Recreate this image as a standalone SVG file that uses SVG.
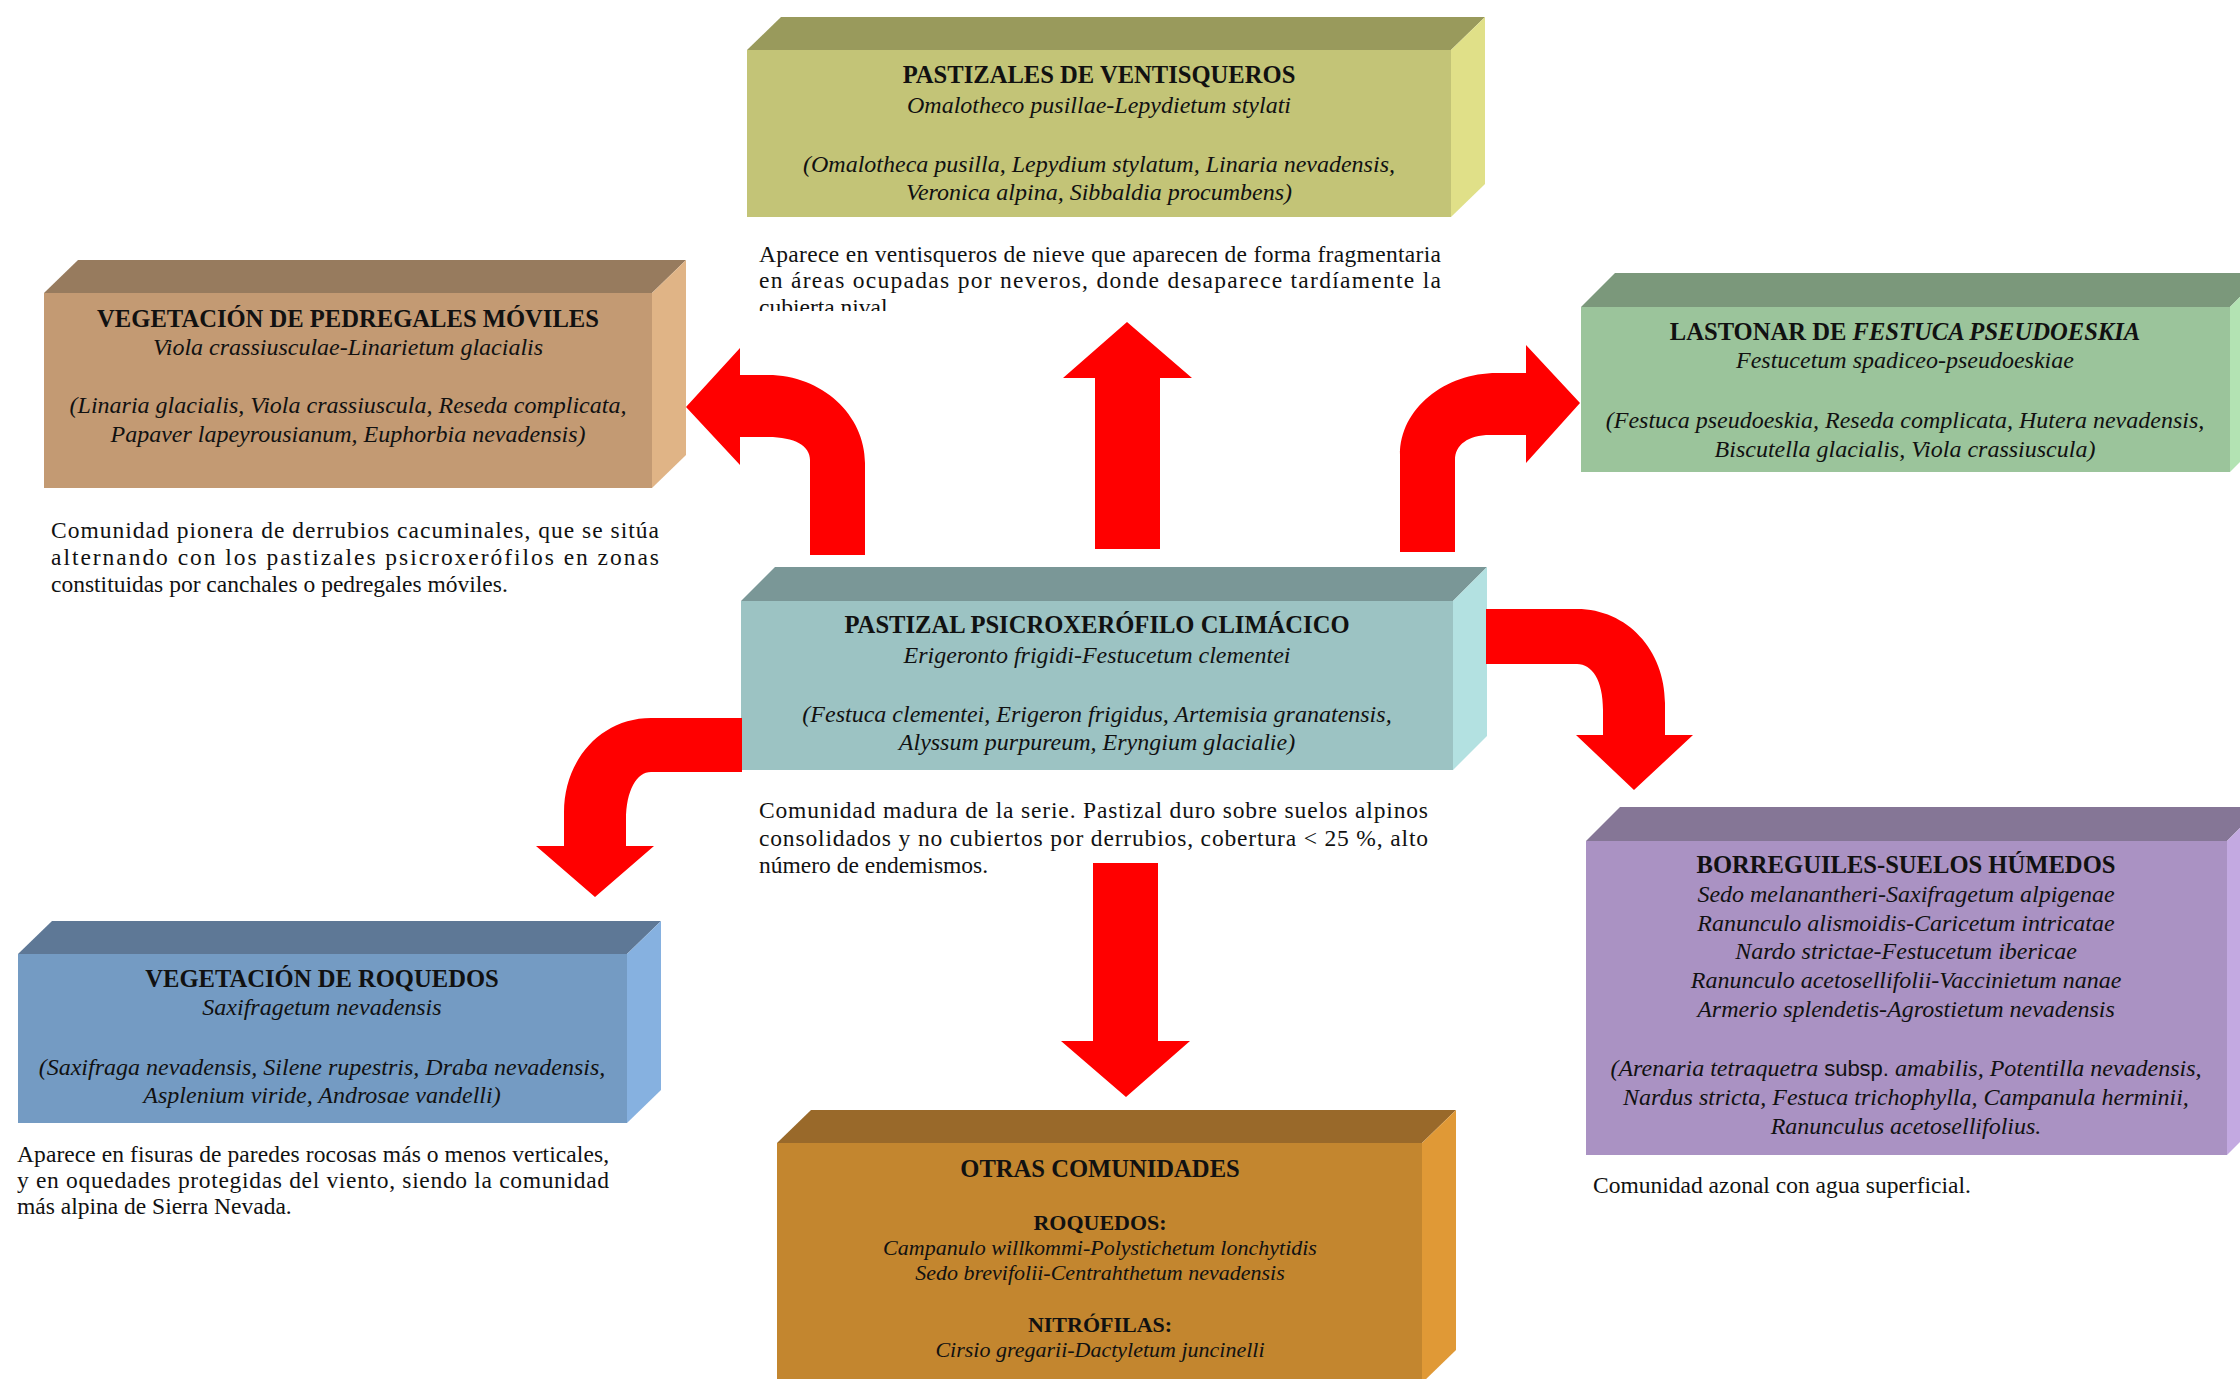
<svg xmlns="http://www.w3.org/2000/svg" width="2240" height="1379" viewBox="0 0 2240 1379">
<style>
text{font-family:"Liberation Serif","Times New Roman",serif;fill:#111;}
.ti{font-size:24.6px;font-weight:bold;text-anchor:middle;}
.it{font-size:24px;font-style:italic;text-anchor:middle;}
.sm{font-size:22px;font-style:italic;text-anchor:middle;}
.sb{font-size:22px;font-weight:bold;text-anchor:middle;}
.p{font-size:23.5px;}
.ss{font-family:"Liberation Sans",Arial,sans-serif;font-style:normal;font-size:22px;}
.arrow{fill:#FF0000;}
#ventisqueros .f{fill:#C3C477}#ventisqueros .t{fill:#999A5C}#ventisqueros .r{fill:#E0E088}
#pedregales .f{fill:#C39A73}#pedregales .t{fill:#977B5E}#pedregales .r{fill:#E0B486}
#lastonar .f{fill:#9BC49B}#lastonar .t{fill:#7B987B}#lastonar .r{fill:#B3E3B3}
#climacico .f{fill:#9CC3C3}#climacico .t{fill:#7A9797}#climacico .r{fill:#B3E1E1}
#borreguiles .f{fill:#AA92C3}#borreguiles .t{fill:#857696}#borreguiles .r{fill:#C3A9E1}
#roquedos .f{fill:#749BC3}#roquedos .t{fill:#5E7896}#roquedos .r{fill:#86B1E0}
#otras .f{fill:#C3862F}#otras .t{fill:#99692A}#otras .r{fill:#E09936}
</style>
<defs>
<clipPath id="clipTop"><rect x="700" y="230" width="800" height="81"/></clipPath>
</defs>
<rect width="2240" height="1379" fill="#FFFFFF"/>

<g id="ventisqueros">
<rect class="f" x="747" y="50" width="704" height="167"/>
<polygon class="t" points="747,50 781,17 1485,17 1451,50"/>
<polygon class="r" points="1451,50 1485,17 1485,184 1451,217"/>
<text class="ti" x="1099" y="83">PASTIZALES DE VENTISQUEROS</text>
<text class="it" x="1099" y="113">Omalotheco pusillae-Lepydietum stylati</text>
<text class="it" x="1099" y="172">(Omalotheca pusilla, Lepydium stylatum, Linaria nevadensis,</text>
<text class="it" x="1099" y="200">Veronica alpina, Sibbaldia procumbens)</text>
<g clip-path="url(#clipTop)">
<text class="p" x="759" y="262" textLength="682" lengthAdjust="spacing">Aparece en ventisqueros de nieve que aparecen de forma fragmentaria</text>
<text class="p" x="759" y="288" textLength="682" lengthAdjust="spacing">en áreas ocupadas por neveros, donde desaparece tardíamente la</text>
<text class="p" x="759" y="315">cubierta nival</text>
</g>
</g>

<g id="pedregales">
<rect class="f" x="44" y="293" width="608" height="195"/>
<polygon class="t" points="44,293 78,260 686,260 652,293"/>
<polygon class="r" points="652,293 686,260 686,455 652,488"/>
<text class="ti" x="348" y="327">VEGETACIÓN DE PEDREGALES MÓVILES</text>
<text class="it" x="348" y="355">Viola crassiusculae-Linarietum glacialis</text>
<text class="it" x="348" y="413">(Linaria glacialis, Viola crassiuscula, Reseda complicata,</text>
<text class="it" x="348" y="442">Papaver lapeyrousianum, Euphorbia nevadensis)</text>
<text class="p" x="51" y="538" textLength="608" lengthAdjust="spacing">Comunidad pionera de derrubios cacuminales, que se sitúa</text>
<text class="p" x="51" y="565" textLength="608" lengthAdjust="spacing">alternando con los pastizales psicroxerófilos en zonas</text>
<text class="p" x="51" y="592">constituidas por canchales o pedregales móviles.</text>
</g>

<g id="lastonar">
<rect class="f" x="1581" y="307" width="649" height="165"/>
<polygon class="t" points="1581,307 1615,273 2264,273 2230,307"/>
<polygon class="r" points="2230,307 2264,273 2264,438 2230,472"/>
<text class="ti" x="1905" y="340">LASTONAR DE <tspan font-style="italic">FESTUCA PSEUDOESKIA</tspan></text>
<text class="it" x="1905" y="368">Festucetum spadiceo-pseudoeskiae</text>
<text class="it" x="1905" y="428">(Festuca pseudoeskia, Reseda complicata, Hutera nevadensis,</text>
<text class="it" x="1905" y="457">Biscutella glacialis, Viola crassiuscula)</text>
</g>

<g id="climacico">
<rect class="f" x="741" y="601" width="712" height="169"/>
<polygon class="t" points="741,601 775,567 1487,567 1453,601"/>
<polygon class="r" points="1453,601 1487,567 1487,736 1453,770"/>
<text class="ti" x="1097" y="633">PASTIZAL PSICROXERÓFILO CLIMÁCICO</text>
<text class="it" x="1097" y="663">Erigeronto frigidi-Festucetum clementei</text>
<text class="it" x="1097" y="722">(Festuca clementei, Erigeron frigidus, Artemisia granatensis,</text>
<text class="it" x="1097" y="750">Alyssum purpureum, Eryngium glacialie)</text>
<text class="p" x="759" y="818" textLength="669" lengthAdjust="spacing">Comunidad madura de la serie. Pastizal duro sobre suelos alpinos</text>
<text class="p" x="759" y="846" textLength="669" lengthAdjust="spacing">consolidados y no cubiertos por derrubios, cobertura &lt; 25 %, alto</text>
<text class="p" x="759" y="873">número de endemismos.</text>
</g>

<g id="borreguiles">
<rect class="f" x="1586" y="841" width="641" height="314"/>
<polygon class="t" points="1586,841 1620,807 2261,807 2227,841"/>
<polygon class="r" points="2227,841 2261,807 2261,1121 2227,1155"/>
<text class="ti" x="1906" y="873">BORREGUILES-SUELOS HÚMEDOS</text>
<text class="it" x="1906" y="902">Sedo melanantheri-Saxifragetum alpigenae</text>
<text class="it" x="1906" y="931">Ranunculo alismoidis-Caricetum intricatae</text>
<text class="it" x="1906" y="959">Nardo strictae-Festucetum ibericae</text>
<text class="it" x="1906" y="988">Ranunculo acetosellifolii-Vaccinietum nanae</text>
<text class="it" x="1906" y="1017">Armerio splendetis-Agrostietum nevadensis</text>
<text class="it" x="1906" y="1076">(Arenaria tetraquetra <tspan class="ss">subsp.</tspan> amabilis, Potentilla nevadensis,</text>
<text class="it" x="1906" y="1105">Nardus stricta, Festuca trichophylla, Campanula herminii,</text>
<text class="it" x="1906" y="1134">Ranunculus acetosellifolius.</text>
<text class="p" x="1593" y="1193">Comunidad azonal con agua superficial.</text>
</g>

<g id="roquedos">
<rect class="f" x="18" y="954" width="609" height="169"/>
<polygon class="t" points="18,954 52,921 661,921 627,954"/>
<polygon class="r" points="627,954 661,921 661,1090 627,1123"/>
<text class="ti" x="322" y="987">VEGETACIÓN DE ROQUEDOS</text>
<text class="it" x="322" y="1015">Saxifragetum nevadensis</text>
<text class="it" x="322" y="1075">(Saxifraga nevadensis, Silene rupestris, Draba nevadensis,</text>
<text class="it" x="322" y="1103">Asplenium viride, Androsae vandelli)</text>
<text class="p" x="17" y="1162" textLength="592" lengthAdjust="spacing">Aparece en fisuras de paredes rocosas más o menos verticales,</text>
<text class="p" x="17" y="1188" textLength="592" lengthAdjust="spacing">y en oquedades protegidas del viento, siendo la comunidad</text>
<text class="p" x="17" y="1214">más alpina de Sierra Nevada.</text>
</g>

<g id="otras">
<rect class="f" x="777" y="1143" width="645" height="240"/>
<polygon class="t" points="777,1143 811,1110 1456,1110 1422,1143"/>
<polygon class="r" points="1422,1143 1456,1110 1456,1350 1422,1383"/>
<text class="ti" x="1100" y="1177">OTRAS COMUNIDADES</text>
<text class="sb" x="1100" y="1230">ROQUEDOS:</text>
<text class="sm" x="1100" y="1255">Campanulo willkommi-Polystichetum lonchytidis</text>
<text class="sm" x="1100" y="1280">Sedo brevifolii-Centrahthetum nevadensis</text>
<text class="sb" x="1100" y="1332">NITRÓFILAS:</text>
<text class="sm" x="1100" y="1357">Cirsio gregarii-Dactyletum juncinelli</text>
</g>

<g id="connectors">
<path class="arrow" d="M810,555 L810,460 C810,446 795,437 768,437 L740,437 L740,465 L686,407 L740,348 L740,375 L768,375 C822,375 865,415 865,463 L865,555 Z"/>
<path class="arrow" d="M1095,549 L1095,378 L1063,378 L1127,322 L1192,378 L1160,378 L1160,549 Z"/>
<path class="arrow" d="M1400,552 L1400,455 C1400,408 1445,373 1497,373 L1526,373 L1526,345 L1580,403 L1526,463 L1526,435 L1490,435 C1468,435 1455,445 1455,460 L1455,552 Z"/>
<path class="arrow" d="M1486,609 L1577,609 C1627,609 1665,650 1665,703 L1665,735 L1693,735 L1634,790 L1576,735 L1603,735 L1603,710 C1603,680 1592,664 1577,664 L1486,664 Z"/>
<path class="arrow" d="M1093,863 L1093,1041 L1061,1041 L1126,1097 L1190,1041 L1158,1041 L1158,863 Z"/>
<path class="arrow" d="M742,718 L651,718 C601,718 564,760 564,812 L564,846 L536,846 L595,897 L654,846 L626,846 L626,820 C626,790 637,772 651,772 L742,772 Z"/>
</g>
</svg>
